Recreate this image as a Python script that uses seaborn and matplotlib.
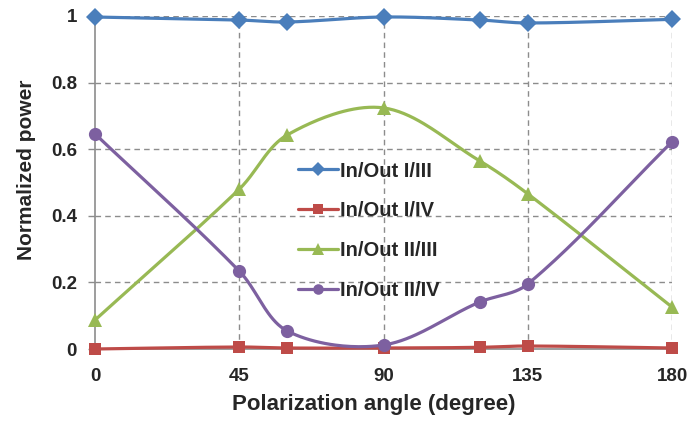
import numpy as np
import pandas as pd
import matplotlib
matplotlib.use('Agg')
import matplotlib.pyplot as plt
import seaborn as sns
from matplotlib.lines import Line2D

# Data
angle = [0, 45, 60, 90, 120, 135, 180]
out_1_3 = [0.997, 0.988, 0.982, 0.997, 0.988, 0.979, 0.990]
out_1_4 = [0.000, 0.006, 0.003, 0.003, 0.005, 0.009, 0.003]
out_2_3 = [0.087, 0.480, 0.643, 0.724, 0.565, 0.466, 0.126]
out_2_4 = [0.646, 0.234, 0.054, 0.012, 0.141, 0.195, 0.622]

names = ['In/Out I/III', 'In/Out I/IV', 'In/Out II/III', 'In/Out II/IV']
colors = ['#4A7EBB', '#BE4B48', '#98B954', '#7D60A0']
markers = ['D', 's', '^', 'o']
msizes = [9, 9, 10, 9.5]

df = pd.DataFrame({'angle': angle * 4,
                   'power': out_1_3 + out_1_4 + out_2_3 + out_2_4,
                   'series': sum([[n] * len(angle) for n in names], [])})

# pixel scale of the plot area, used so the smoothing behaves like a screen spline
SX, SY = 577 / 180, 333.0


def smooth(x, y, n=40):
    # smoothed line like a spreadsheet chart: Bezier segments, chord-length tangents
    p = np.column_stack([np.asarray(x) * SX, np.asarray(y) * SY]).astype(float)
    m = len(p)
    tang = np.zeros_like(p)
    for i in range(m):
        if i == 0:
            tang[i] = (p[1] - p[0]) / np.linalg.norm(p[1] - p[0])
        elif i == m - 1:
            tang[i] = (p[-1] - p[-2]) / np.linalg.norm(p[-1] - p[-2])
        else:
            d0 = np.linalg.norm(p[i] - p[i - 1])
            d1 = np.linalg.norm(p[i + 1] - p[i])
            tang[i] = (p[i + 1] - p[i - 1]) / (d0 + d1)
    out = []
    t = np.linspace(0, 1, n)[:, None]
    for i in range(m - 1):
        p1, p2 = p[i], p[i + 1]
        d = np.linalg.norm(p2 - p1)
        c1 = p1 + tang[i] * d / 3
        c2 = p2 - tang[i + 1] * d / 3
        seg = ((1 - t) ** 3) * p1 + 3 * ((1 - t) ** 2) * t * c1 + 3 * (1 - t) * t ** 2 * c2 + t ** 3 * p2
        out.append(seg)
    out = np.vstack(out)
    return out[:, 0] / SX, out[:, 1] / SY


sns.set_style('white')
plt.rcParams['font.family'] = ['Liberation Sans', 'DejaVu Sans']
plt.rcParams['font.weight'] = 'bold'

fig = plt.figure(figsize=(6.87, 4.21), dpi=100)
ax = fig.add_axes([95 / 687, 1 - 349 / 421, 577 / 687, 333 / 421])

for name, c, m, ms in zip(names, colors, markers, msizes):
    sub = df[df['series'] == name]
    sx, sy = smooth(sub['angle'].values, sub['power'].values)
    ax.plot(sx, sy, color=c, lw=2.3, zorder=3, clip_on=False, solid_capstyle='round')
    sns.lineplot(data=sub, x='angle', y='power', ax=ax, color=c, marker=m,
                 markersize=ms, markeredgewidth=0, linestyle='', zorder=4,
                 clip_on=False, legend=False)

ax.set_xlim(0, 180)
ax.set_ylim(0, 1)
ax.set_xticks([0, 45, 90, 135, 180])
ax.set_yticks([0, 0.2, 0.4, 0.6, 0.8, 1.0])
ax.set_yticklabels(['0', '0.2', '0.4', '0.6', '0.8', '1'])

for v in [45, 90, 135, 180]:
    ax.axvline(v, color='#8c8c8c', lw=1, ls=(0, (4, 3)), zorder=1)
for v in [0.2, 0.4, 0.6, 0.8, 1.0]:
    ax.axhline(v, color='#8c8c8c', lw=1, ls=(0, (4, 3)), zorder=1)

for s in ['top', 'right']:
    ax.spines[s].set_visible(False)
ax.spines['left'].set_color('#8c8c8c')
ax.spines['bottom'].set_color('#8c8c8c')
ax.spines['left'].set_linewidth(1.2)
ax.spines['bottom'].set_linewidth(1.2)

ax.tick_params(axis='y', which='major', left=True, length=5, width=1,
               color='#8c8c8c', labelsize=13.5, pad=8)
ax.tick_params(axis='x', which='major', bottom=False, labelsize=13.5, pad=10)
for lab in ax.get_xticklabels() + ax.get_yticklabels():
    lab.set_fontweight('bold')

ax.set_xlabel('Polarization angle (degree)', fontsize=16, fontweight='bold')
ax.set_ylabel('Normalized power', fontsize=15, fontweight='bold')
ax.xaxis.set_label_coords(0.483, -0.135)
ax.yaxis.set_label_coords(-0.102, 0.538)

handles = [Line2D([], [], color=c, lw=2.3, marker=m, markersize=ms * 0.8, markeredgewidth=0)
           for c, m, ms in zip(colors, markers, msizes)]
leg = ax.legend(handles, names, loc='upper left', bbox_to_anchor=(0.352, 0.563),
                frameon=False, labelspacing=1.035,
                handlelength=2.0, handletextpad=0.1, borderpad=0, borderaxespad=0,
                prop={'weight': 'bold', 'size': 14.5})

fig.savefig('out.png', dpi=100)
